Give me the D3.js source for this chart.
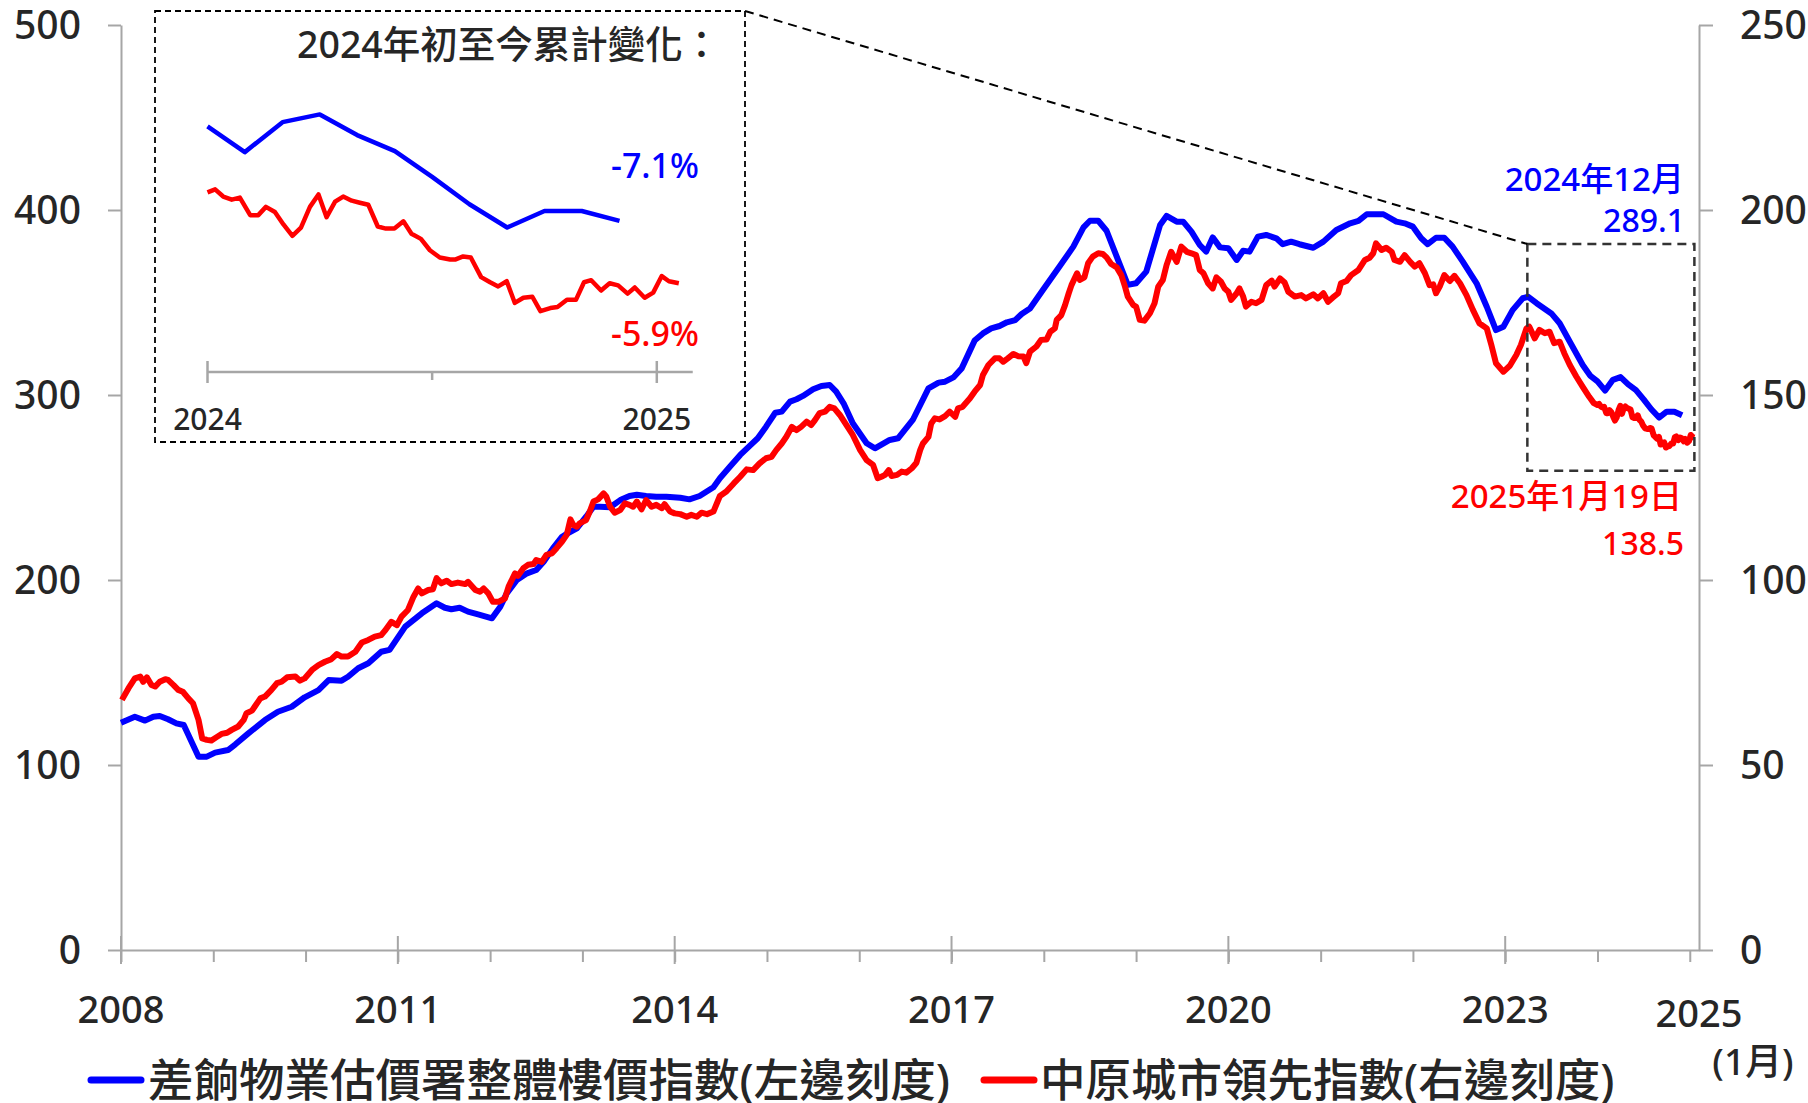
<!DOCTYPE html>
<html><head><meta charset="utf-8">
<script src="https://cdn.jsdelivr.net/npm/d3@7"></script>
<style>
body{margin:0;background:#fff;}
svg{display:block;font-family:"Noto Sans","Noto Sans CJK TC",sans-serif;font-weight:500;}
</style></head><body>
<svg id="c" width="1808" height="1103"></svg>
<script>
// ---------------- DATA ----------------
// 差餉物業估價署整體樓價指數 (left scale) : decimal-year dates and values
const blueT = [
2008.00,2008.15,2008.26,2008.35,2008.42,2008.51,2008.60,2008.68,2008.84,2008.93,
2009.02,2009.16,2009.24,2009.38,2009.56,2009.70,2009.85,2009.99,2010.14,2010.25,
2010.39,2010.46,2010.57,2010.68,2010.82,2010.91,2011.08,2011.26,2011.42,2011.51,
2011.58,2011.67,2011.76,2011.87,2012.02,2012.11,2012.18,2012.29,2012.40,2012.50,
2012.58,2012.68,2012.78,2012.83,2012.94,2013.04,2013.12,2013.19,2013.30,2013.41,
2013.51,2013.59,2013.69,2013.80,2013.91,2014.06,2014.16,2014.27,2014.42,2014.49,
2014.60,2014.71,2014.81,2014.90,2014.99,2015.09,2015.16,2015.25,2015.32,2015.39,
2015.50,2015.59,2015.68,2015.75,2015.83,2015.93,2016.08,2016.17,2016.33,2016.42,
2016.58,2016.75,2016.86,2016.93,2017.02,2017.11,2017.25,2017.34,2017.43,2017.52,
2017.60,2017.69,2017.76,2017.85,2017.99,2018.17,2018.32,2018.43,2018.50,2018.59,
2018.68,2018.79,2018.91,2019.00,2019.11,2019.26,2019.33,2019.44,2019.51,2019.60,
2019.69,2019.76,2019.83,2019.91,2020.00,2020.09,2020.16,2020.23,2020.32,2020.41,
2020.52,2020.59,2020.68,2020.77,2020.92,2021.03,2021.17,2021.32,2021.41,2021.50,
2021.68,2021.82,2021.91,2022.00,2022.09,2022.16,2022.25,2022.34,2022.43,2022.54,
2022.69,2022.80,2022.90,2022.98,2023.08,2023.19,2023.25,2023.34,2023.50,2023.59,
2023.70,2023.84,2023.92,2024.000,2024.083,2024.167,2024.250,2024.333,2024.417,2024.500,
2024.583,2024.667,2024.750,2024.833,2024.917];
const blueV = [
122.9,126.1,124.0,126.1,126.5,124.7,122.5,121.6,104.5,104.5,
106.7,108.1,111.2,117.1,124.3,128.8,131.5,136.6,140.5,145.9,
145.6,147.7,152.3,155.0,161.2,162.2,174.8,182.0,187.4,185.0,
184.2,185.0,182.9,181.4,179.3,185.6,192.8,200.0,203.6,205.4,
209.9,217.1,223.4,224.9,227.9,234.2,239.6,239.6,239.3,243.2,
245.4,246.1,245.4,245.0,245.0,244.5,243.6,245.4,250.1,255.0,
261.3,267.6,272.4,276.6,282.9,290.4,291.0,296.4,297.7,299.5,
303.1,304.9,305.4,301.8,295.5,284.7,273.9,271.2,275.7,276.6,
286.5,303.6,306.7,307.2,309.5,314.4,329.4,333.3,336.0,337.3,
339.3,340.5,343.8,346.8,356.8,369.4,380.2,390.6,394.2,394.2,
388.8,374.8,359.5,360.4,366.7,391.9,396.8,393.7,393.7,388.3,
381.1,377.5,385.2,379.8,379.3,373.0,378.0,377.5,385.6,386.5,
384.7,381.5,382.9,381.5,379.6,382.9,389.2,392.8,394.1,397.7,
397.7,393.7,392.8,391.0,384.7,381.5,385.0,385.0,380.2,372.1,
360.4,347.7,335.1,336.9,345.9,352.3,353.1,349.6,344.1,338.8,
328.8,316.2,310.5,307.4,302.4,308.2,309.7,305.7,302.6,297.6,
292.3,287.8,291.0,291.0,289.1];

// 中原城市領先指數 (right scale)
const redT = [
2008.01,2008.08,2008.15,2008.21,2008.24,2008.28,2008.33,2008.37,2008.42,2008.48,
2008.51,2008.57,2008.62,2008.67,2008.73,2008.78,2008.84,2008.88,2008.93,2008.98,
2009.04,2009.09,2009.15,2009.20,2009.27,2009.33,2009.36,2009.42,2009.45,2009.51,
2009.56,2009.63,2009.69,2009.74,2009.80,2009.89,2009.94,2009.99,2010.07,2010.14,
2010.21,2010.28,2010.34,2010.39,2010.46,2010.54,2010.61,2010.68,2010.75,2010.82,
2010.86,2010.93,2010.99,2011.04,2011.11,2011.17,2011.22,2011.26,2011.33,2011.38,
2011.42,2011.47,2011.53,2011.58,2011.65,2011.73,2011.76,2011.84,2011.89,2011.93,
2011.98,2012.03,2012.09,2012.16,2012.20,2012.27,2012.30,2012.36,2012.41,2012.47,
2012.50,2012.56,2012.61,2012.67,2012.72,2012.78,2012.83,2012.87,2012.90,2012.94,
2012.97,2013.04,2013.08,2013.12,2013.17,2013.23,2013.26,2013.30,2013.35,2013.41,
2013.46,2013.51,2013.55,2013.59,2013.64,2013.69,2013.75,2013.80,2013.86,2013.89,
2013.95,2014.00,2014.06,2014.13,2014.18,2014.24,2014.29,2014.35,2014.42,2014.49,
2014.56,2014.64,2014.71,2014.78,2014.85,2014.92,2014.99,2015.05,2015.10,2015.16,
2015.21,2015.27,2015.32,2015.37,2015.43,2015.48,2015.52,2015.57,2015.63,2015.68,
2015.73,2015.79,2015.86,2015.93,2016.01,2016.08,2016.15,2016.20,2016.24,2016.28,
2016.32,2016.35,2016.41,2016.46,2016.51,2016.57,2016.62,2016.66,2016.69,2016.75,
2016.78,2016.82,2016.87,2016.93,2016.98,2017.04,2017.07,2017.12,2017.20,2017.25,
2017.31,2017.34,2017.40,2017.47,2017.52,2017.56,2017.61,2017.67,2017.72,2017.78,
2017.81,2017.85,2017.92,2017.97,2018.03,2018.07,2018.12,2018.14,2018.19,2018.23,
2018.27,2018.30,2018.36,2018.39,2018.44,2018.48,2018.53,2018.59,2018.64,2018.68,
2018.73,2018.79,2018.84,2018.88,2018.91,2018.97,2019.00,2019.04,2019.09,2019.15,
2019.20,2019.24,2019.29,2019.33,2019.38,2019.44,2019.49,2019.55,2019.60,2019.65,
2019.69,2019.73,2019.78,2019.83,2019.87,2019.92,2019.96,2020.00,2020.03,2020.09,
2020.12,2020.16,2020.19,2020.25,2020.30,2020.36,2020.41,2020.47,2020.50,2020.56,
2020.61,2020.65,2020.72,2020.79,2020.84,2020.92,2020.97,2021.03,2021.08,2021.13,
2021.19,2021.22,2021.28,2021.33,2021.41,2021.48,2021.53,2021.57,2021.60,2021.66,
2021.71,2021.77,2021.80,2021.86,2021.91,2021.97,2022.02,2022.07,2022.13,2022.18,
2022.22,2022.25,2022.29,2022.34,2022.40,2022.45,2022.51,2022.58,2022.65,2022.72,
2022.80,2022.85,2022.90,2022.98,2023.05,2023.12,2023.17,2023.23,2023.26,2023.32,
2023.37,2023.43,2023.48,2023.53,2023.59,2023.64,2023.70,2023.77,2023.84,2023.91,
2023.96,2024.000,2024.017,2024.035,2024.054,2024.072,2024.095,2024.113,2024.130,2024.150,
2024.169,2024.189,2024.208,2024.228,2024.247,2024.265,2024.284,2024.302,2024.321,2024.339,
2024.358,2024.379,2024.397,2024.416,2024.436,2024.454,2024.475,2024.495,2024.517,2024.540,
2024.551,2024.569,2024.586,2024.609,2024.629,2024.647,2024.666,2024.684,2024.703,2024.723,
2024.741,2024.763,2024.779,2024.800,2024.820,2024.838,2024.854,2024.876,2024.895,2024.914,
2024.935,2024.951,2024.973,2024.992,2025.011,2025.027,2025.049];
const redV = [
67.6,70.7,73.4,73.9,72.5,73.7,71.6,71.2,72.5,73.2,
73.0,71.6,70.3,69.8,68.0,66.7,62.2,57.2,56.8,56.6,
57.6,58.4,58.7,59.5,60.4,62.2,64.0,64.7,65.8,68.0,
68.5,70.3,72.1,72.5,73.7,73.9,72.8,73.4,75.7,77.0,
77.9,78.6,80.0,79.3,79.3,80.6,83.1,83.8,84.7,85.1,
86.3,88.7,87.8,90.1,91.9,95.5,97.7,96.4,97.3,97.5,
100.5,99.1,99.8,98.9,99.3,98.9,99.5,97.3,96.8,97.7,
96.4,94.1,94.1,95.0,98.2,101.8,101.1,103.2,104.1,104.3,
105.4,104.9,106.8,107.2,108.6,110.4,112.2,116.4,114.9,114.4,
115.3,116.2,118.5,121.2,121.8,123.4,122.5,119.8,118.2,118.9,
120.7,120.3,119.8,121.2,119.1,121.6,119.8,120.3,119.4,120.5,
118.5,118.0,117.8,117.1,117.6,117.1,118.2,117.8,118.5,122.7,
123.9,126.1,127.9,129.9,129.7,131.5,132.9,133.3,135.1,136.9,
138.7,141.4,140.5,141.4,142.8,141.9,143.2,145.1,145.5,146.8,
146.4,144.6,141.9,139.2,135.1,132.4,131.1,127.5,127.9,128.4,
129.7,128.1,128.4,129.3,129.0,130.2,131.7,135.1,136.9,138.7,
142.3,143.7,143.4,144.3,145.5,144.1,146.4,146.8,149.1,150.9,
152.7,155.4,158.1,159.9,159.9,159.0,159.9,161.1,160.5,160.4,
158.6,161.7,163.1,164.9,165.0,167.1,168.0,170.3,171.6,174.3,
177.5,179.7,182.9,181.1,181.8,185.6,187.4,188.3,188.1,187.2,
185.4,184.5,182.4,179.3,176.6,174.3,173.9,170.3,170.1,172.1,
174.8,179.3,181.1,185.1,188.7,186.0,190.1,188.7,188.3,187.8,
183.8,182.9,180.2,178.8,181.8,180.6,178.8,177.9,175.7,177.5,
178.8,176.6,173.9,175.2,174.8,175.7,179.7,180.9,179.3,181.5,
180.4,177.9,176.6,177.0,176.1,177.2,176.1,177.5,175.2,176.3,
177.5,180.2,180.8,182.4,183.8,186.5,187.1,188.3,191.0,189.2,
189.8,188.7,186.5,186.0,187.8,186.0,184.7,185.6,182.9,179.7,
179.9,177.5,179.3,182.4,180.8,182.2,180.2,177.0,173.0,169.4,
168.0,163.5,158.6,156.3,157.9,160.8,163.5,168.0,168.5,165.3,
167.6,166.7,167.1,164.0,164.4,161.3,158.1,155.0,152.2,149.5,
147.8,147.3,147.6,146.9,146.6,146.8,145.1,145.1,145.9,145.4,
144.2,143.1,143.9,145.9,147.1,144.9,146.4,146.9,146.5,146.3,
146.1,144.0,143.8,143.8,144.5,143.3,142.8,141.7,141.0,140.8,
140.8,141.1,141.0,139.1,138.6,138.2,138.7,136.6,137.1,137.2,
135.8,136.1,136.2,136.9,136.9,138.6,138.8,137.8,138.5,138.3,
137.5,138.1,137.1,137.6,139.2,138.7,138.5];

const seriesNames = ["差餉物業估價署整體樓價指數(左邊刻度)", "中原城市領先指數(右邊刻度)"];
const leftTicks = [0, 100, 200, 300, 400, 500];
const rightTicks = [0, 50, 100, 150, 200, 250];
const majorYears = [2008, 2011, 2014, 2017, 2020, 2023];
const allYears = [2008,2009,2010,2011,2012,2013,2014,2015,2016,2017,2018,2019,2020,2021,2022,2023,2024,2025];
const endLabel = "2025", endSub = "(1月)";
const insetYears = [2024, 2025];
const insetTitle = "2024年初至今累計變化：";
const insetChanges = ["-7.1%", "-5.9%"];
const blueLast = ["2024年12月", "289.1"];
const redLast = ["2025年1月19日", "138.5"];
const zoomBoxT = [2023.24, 2025.05];   // region highlighted on main chart
const zoomBoxV = [381.6, 259.0];        // left-scale units

// ---------------- CHART ----------------
const svg = d3.select("#c");
const AX = "#a6a6a6", TXT = "#262626", BLUE = "#0000ff", RED = "#ff0000";

const x = d3.scaleLinear().domain([2008, 2025.1]).range([121, 1699]);
const yL = d3.scaleLinear().domain([0, 500]).range([950, 25]);
const yR = d3.scaleLinear().domain([0, 250]).range([950, 25]);

if (blueT.length !== blueV.length || redT.length !== redV.length) {
  svg.append("text").attr("x", 800).attr("y", 500).attr("fill", "magenta").attr("font-size", 40)
    .text(`len mismatch ${blueT.length}/${blueV.length} ${redT.length}/${redV.length}`);
}
const blue = blueT.map((t, i) => ({t, v: blueV[i]}));
const red = redT.map((t, i) => ({t, v: redV[i]}));

function styleAxis(g) {
  g.select(".domain").attr("stroke", AX).attr("stroke-width", 2);
  g.selectAll(".tick line").attr("stroke", AX).attr("stroke-width", 2);
  g.selectAll(".tick text").remove();
}

// left axis
svg.append("g").attr("transform", `translate(${x(2008)},0)`)
  .call(d3.axisLeft(yL).tickValues(leftTicks).tickSize(13).tickSizeOuter(0))
  .call(styleAxis);
svg.append("g").selectAll("text").data(leftTicks).join("text")
  .attr("x", 81).attr("y", d => yL(d)).attr("dy", "0.36em")
  .attr("text-anchor", "end").attr("font-size", 39).attr("fill", TXT).text(d => d);

// right axis
svg.append("g").attr("transform", `translate(${x(2025.1)},0)`)
  .call(d3.axisRight(yR).tickValues(rightTicks).tickSize(14).tickSizeOuter(0))
  .call(styleAxis);
svg.append("g").selectAll("text").data(rightTicks).join("text")
  .attr("x", 1740).attr("y", d => yR(d)).attr("dy", "0.36em")
  .attr("text-anchor", "start").attr("font-size", 39).attr("fill", TXT).text(d => d);

// bottom axis
svg.append("g").attr("transform", `translate(0,${yL(0)})`)
  .call(d3.axisBottom(x).tickValues(allYears).tickSize(12).tickSizeOuter(0))
  .call(styleAxis);
svg.append("g").selectAll("line").data(majorYears).join("line")
  .attr("x1", d => x(d)).attr("x2", d => x(d))
  .attr("y1", yL(0) - 14).attr("y2", yL(0) + 14)
  .attr("stroke", AX).attr("stroke-width", 2);
svg.append("g").selectAll("text").data(majorYears).join("text")
  .attr("x", d => x(d)).attr("y", 1023).attr("text-anchor", "middle")
  .attr("font-size", 38).attr("fill", TXT).text(d => d);
svg.append("text").attr("x", x(2025.1)).attr("y", 1027).attr("text-anchor", "middle")
  .attr("font-size", 38).attr("fill", TXT).text(endLabel);
svg.append("text").attr("x", 1753).attr("y", 1075).attr("text-anchor", "middle")
  .attr("font-size", 37).attr("fill", TXT).text(endSub);

// main lines
const lineB = d3.line().x(d => x(d.t)).y(d => yL(d.v));
const lineR = d3.line().x(d => x(d.t)).y(d => yR(d.v));
svg.append("path").datum(blue).attr("d", lineB).attr("fill", "none")
  .attr("stroke", BLUE).attr("stroke-width", 6).attr("stroke-linejoin", "round");
svg.append("path").datum(red).attr("d", lineR).attr("fill", "none")
  .attr("stroke", RED).attr("stroke-width", 6).attr("stroke-linejoin", "round");

// zoom box on main chart
const zb = {x0: x(zoomBoxT[0]), x1: x(zoomBoxT[1]), y0: yL(zoomBoxV[0]), y1: yL(zoomBoxV[1])};
svg.append("rect").attr("x", zb.x0).attr("y", zb.y0)
  .attr("width", zb.x1 - zb.x0).attr("height", zb.y1 - zb.y0)
  .attr("fill", "none").attr("stroke", "#333").attr("stroke-width", 2.5)
  .attr("stroke-dasharray", "9,6");

// inset box
const IB = {x: 155, y: 11, w: 590, h: 431};
svg.append("rect").attr("x", IB.x).attr("y", IB.y).attr("width", IB.w).attr("height", IB.h)
  .attr("fill", "#fff").attr("stroke", "#000").attr("stroke-width", 1.8)
  .attr("stroke-dasharray", "6,4");
svg.append("line").attr("x1", IB.x + IB.w).attr("y1", IB.y).attr("x2", zb.x0).attr("y2", zb.y0)
  .attr("stroke", "#000").attr("stroke-width", 2).attr("stroke-dasharray", "9,6");

// inset chart
const ix = d3.scaleLinear().domain([2024, 2025]).range([207.5, 656.8]);
const iy = d3.scaleLinear().domain([277, 307.4]).range([283.3, 126.3]);
const iAxisY = 372;
svg.append("line").attr("x1", ix(2024)).attr("x2", ix(2025.08)).attr("y1", iAxisY).attr("y2", iAxisY)
  .attr("stroke", AX).attr("stroke-width", 2.5);
svg.append("g").selectAll("line").data(insetYears).join("line")
  .attr("x1", d => ix(d)).attr("x2", d => ix(d)).attr("y1", iAxisY - 11).attr("y2", iAxisY + 11)
  .attr("stroke", AX).attr("stroke-width", 2.5);
svg.append("line").attr("x1", ix(2024.5)).attr("x2", ix(2024.5)).attr("y1", iAxisY).attr("y2", iAxisY + 8)
  .attr("stroke", AX).attr("stroke-width", 2.5);
svg.append("g").selectAll("text").data(insetYears).join("text")
  .attr("x", d => ix(d)).attr("y", 430).attr("text-anchor", "middle")
  .attr("font-size", 30).attr("fill", TXT).text(d => d);

const iBlue = blue.filter(d => d.t >= 2024);
const iRed = red.filter(d => d.t >= 2024);
svg.append("path").datum(iBlue)
  .attr("d", d3.line().x(d => ix(d.t)).y(d => iy(d.v)))
  .attr("fill", "none").attr("stroke", BLUE).attr("stroke-width", 4.5).attr("stroke-linejoin", "round");
svg.append("path").datum(iRed)
  .attr("d", d3.line().x(d => ix(d.t)).y(d => iy(d.v * 2)))
  .attr("fill", "none").attr("stroke", RED).attr("stroke-width", 4.5).attr("stroke-linejoin", "round");

svg.append("text").attr("x", 297).attr("y", 58).attr("font-size", 37.5).attr("fill", TXT).text(insetTitle);
svg.append("text").attr("x", 655).attr("y", 178).attr("text-anchor", "middle")
  .attr("font-size", 34).attr("fill", BLUE).text(insetChanges[0]);
svg.append("text").attr("x", 655).attr("y", 346).attr("text-anchor", "middle")
  .attr("font-size", 34).attr("fill", RED).text(insetChanges[1]);

// end annotations
svg.append("text").attr("x", 1684).attr("y", 191).attr("text-anchor", "end")
  .attr("font-size", 33).attr("fill", BLUE).text(blueLast[0]);
svg.append("text").attr("x", 1685).attr("y", 232).attr("text-anchor", "end")
  .attr("font-size", 32).attr("fill", BLUE).text(blueLast[1]);
svg.append("text").attr("x", 1682).attr("y", 508).attr("text-anchor", "end")
  .attr("font-size", 33).attr("fill", RED).text(redLast[0]);
svg.append("text").attr("x", 1684).attr("y", 555).attr("text-anchor", "end")
  .attr("font-size", 32).attr("fill", RED).text(redLast[1]);

// legend
const legend = [
  {name: seriesNames[0], color: BLUE, x0: 91, x1: 141, tx: 148},
  {name: seriesNames[1], color: RED, x0: 984, x1: 1034, tx: 1040}
];
const lg = svg.append("g");
lg.selectAll("line").data(legend).join("line")
  .attr("x1", d => d.x0).attr("x2", d => d.x1).attr("y1", 1080).attr("y2", 1080)
  .attr("stroke", d => d.color).attr("stroke-width", 7).attr("stroke-linecap", "round");
lg.selectAll("text").data(legend).join("text")
  .attr("x", d => d.tx).attr("y", 1079).attr("dominant-baseline", "central")
  .attr("font-size", 45.5).attr("fill", TXT).text(d => d.name);
</script>
</body></html>
